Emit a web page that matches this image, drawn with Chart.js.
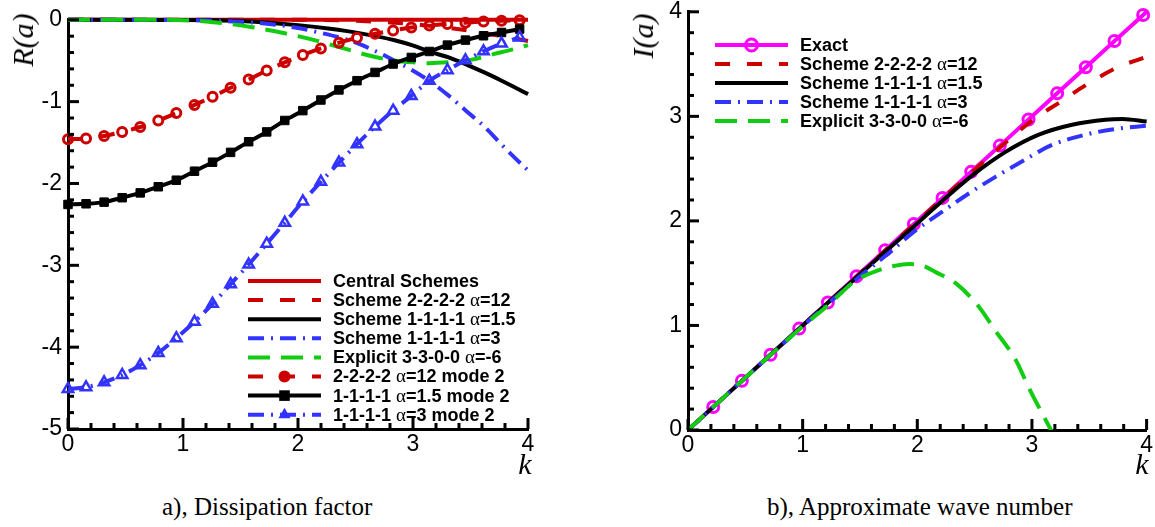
<!DOCTYPE html>
<html>
<head>
<meta charset="utf-8">
<script src="https://cdn.jsdelivr.net/npm/chart.js@4.4.1/dist/chart.umd.min.js"></script>
<style>
  html, body { margin: 0; padding: 0; background: #fff; width: 1155px; height: 527px; overflow: hidden; }
  canvas { position: absolute; }
  .lbl { position: absolute; font-family: 'Liberation Serif', 'Times New Roman', serif; color: #000; white-space: nowrap; line-height: 1; }
  .axt { font-style: italic; font-size: 30px; transform: translate(-50%, -50%); }
  .rot { transform: translate(-50%, -50%) rotate(-90deg); }
  .cap { font-size: 25px; }
</style>
</head>
<body>
<canvas id="dissipationChart" width="560" height="470" style="left:0;top:0"></canvas>
<canvas id="waveChart" width="535" height="479" style="left:620px;top:-8px"></canvas>

<div class="lbl axt rot" style="left:23px;top:40px">R(a)</div>
<div class="lbl axt rot" style="left:643px;top:36px">I(a)</div>
<div class="lbl axt" style="left:525px;top:464px">k</div>
<div class="lbl axt" style="left:1142px;top:464px">k</div>
<div class="lbl cap" style="left:162px;top:494px">a), Dissipation factor</div>
<div class="lbl cap" style="left:767px;top:494px">b), Approximate wave number</div>

<script>
// ---- left panel: dissipation factor R(a) ----
const K_MODE2 = [0, 0.157, 0.314, 0.471, 0.628, 0.785, 0.942, 1.100, 1.257, 1.414, 1.571, 1.728, 1.885,
                 2.042, 2.199, 2.356, 2.513, 2.670, 2.827, 2.985, 3.142, 3.299, 3.456, 3.613, 3.770, 3.927];
const R_2222_MODE2 = [-1.46, -1.45, -1.42, -1.37, -1.31, -1.23, -1.14, -1.04, -0.94, -0.83, -0.73, -0.62, -0.52,
                      -0.43, -0.35, -0.28, -0.22, -0.17, -0.13, -0.095, -0.07, -0.05, -0.035, -0.022, -0.012, -0.005];
const R_1111A_MODE2 = [-2.256, -2.248, -2.228, -2.174, -2.115, -2.04, -1.96, -1.85, -1.74, -1.62, -1.49, -1.37, -1.23,
                       -1.11, -0.98, -0.857, -0.744, -0.643, -0.54, -0.46, -0.387, -0.309, -0.248, -0.195, -0.155, -0.113];
const R_1111B_MODE2 = [-4.51, -4.49, -4.43, -4.34, -4.22, -4.07, -3.89, -3.69, -3.47, -3.23, -2.99, -2.735, -2.48,
                       -2.22, -1.98, -1.745, -1.52, -1.305, -1.11, -0.93, -0.745, -0.615, -0.495, -0.385, -0.29, -0.215];

const K_CENTRAL = [0, 4];
const R_CENTRAL = [0, 0];
const K_2222 = [0, 2.0, 2.36, 2.51, 2.67, 2.83, 2.98, 3.14, 3.29, 3.45, 3.61, 3.77, 3.93, 4.0];
const R_2222 = [0, 0, -0.005, -0.012, -0.022, -0.035, -0.05, -0.073, -0.095, -0.125, -0.16, -0.2, -0.24, -0.26];
const K_1111A = [0, 1.0, 1.25, 1.5, 1.75, 2.0, 2.28, 2.52, 2.84, 2.99, 3.14, 3.31, 3.47, 3.62, 3.78, 3.93, 4.0];
const R_1111A = [0, -0.002, -0.006, -0.015, -0.035, -0.065, -0.11, -0.16, -0.25, -0.31, -0.387, -0.46, -0.55, -0.643, -0.75, -0.857, -0.91];
const K_1111B = [0, 1.0, 1.25, 1.5, 1.75, 2.0, 2.2, 2.36, 2.52, 2.68, 2.84, 2.99, 3.14, 3.31, 3.46, 3.62, 3.77, 3.93, 4.0];
const R_1111B = [0, -0.003, -0.01, -0.025, -0.05, -0.1, -0.16, -0.216, -0.289, -0.387, -0.5, -0.613, -0.745, -0.927, -1.11, -1.305, -1.524, -1.747, -1.84];
const K_EXPL = [0, 0.8, 1.0, 1.2, 1.4, 1.6, 1.8, 2.0, 2.2, 2.4, 2.6, 2.8, 3.0, 3.14, 3.3, 3.5, 3.7, 3.9, 4.0];
const R_EXPL = [0, 0, -0.005, -0.02, -0.05, -0.09, -0.14, -0.2, -0.27, -0.35, -0.43, -0.49, -0.52, -0.53, -0.52, -0.49, -0.42, -0.35, -0.31];

// ---- right panel: approximate wave number I(a) ----
const K_EXACT = [0, 0.22, 0.47, 0.72, 0.97, 1.22, 1.47, 1.72, 1.97, 2.22, 2.47, 2.72, 2.97, 3.22, 3.47, 3.72, 3.97, 4.0];
const I_EXACT = [0, 0.22, 0.47, 0.72, 0.97, 1.22, 1.47, 1.72, 1.97, 2.22, 2.47, 2.72, 2.97, 3.22, 3.47, 3.72, 3.97, 4.0];
const K_I2222 = [0, 1.0, 2.0, 2.5, 2.75, 3.0, 3.25, 3.5, 3.75, 4.0];
const I_2222 = [0, 1.0, 1.995, 2.49, 2.73, 2.96, 3.14, 3.32, 3.47, 3.57];
const K_I1111A = [0, 0.5, 1.0, 1.25, 1.5, 1.7, 1.887, 2.19, 2.48, 2.77, 3.06, 3.35, 3.64, 3.79, 4.0];
const I_1111A = [0, 0.5, 1.0, 1.245, 1.49, 1.685, 1.865, 2.165, 2.435, 2.66, 2.825, 2.92, 2.968, 2.975, 2.95];
const K_I1111B = [0, 0.5, 1.0, 1.25, 1.5, 1.75, 1.98, 2.215, 2.446, 2.678, 2.916, 3.17, 3.467, 3.73, 4.0];
const I_1111B = [0, 0.5, 0.995, 1.235, 1.47, 1.69, 1.905, 2.086, 2.26, 2.419, 2.571, 2.724, 2.825, 2.879, 2.91];
const K_IEXPL = [0, 0.5, 1.0, 1.25, 1.45, 1.64, 1.8, 1.93, 2.05, 2.16, 2.34, 2.54, 2.68, 2.86, 2.97, 3.12, 3.2];
const I_EXPL = [0, 0.5, 0.99, 1.22, 1.42, 1.52, 1.57, 1.587, 1.57, 1.51, 1.40, 1.175, 0.952, 0.667, 0.41, 0.095, -0.07];

// axis tick positions (major every 1, minor every 0.2)
const X_MINOR = [0, 0.2, 0.4, 0.6, 0.8, 1, 1.2, 1.4, 1.6, 1.8, 2, 2.2, 2.4, 2.6, 2.8, 3, 3.2, 3.4, 3.6, 3.8, 4];
const R_MINOR = [-5, -4.8, -4.6, -4.4, -4.2, -4, -3.8, -3.6, -3.4, -3.2, -3, -2.8, -2.6, -2.4, -2.2, -2,
                 -1.8, -1.6, -1.4, -1.2, -1, -0.8, -0.6, -0.4, -0.2, 0];
const I_MINOR = [0, 0.2, 0.4, 0.6, 0.8, 1, 1.2, 1.4, 1.6, 1.8, 2, 2.2, 2.4, 2.6, 2.8, 3, 3.2, 3.4, 3.6, 3.8, 4];

const RED = '#cc0000';
const BLACK = '#000000';
const BLUE = '#3333ff';
const GREEN = '#11cc11';
const MAGENTA = '#ff00ff';
const DASH = [15, 17];
const LONG_DASH = [22, 11];
const DASH_DOT = [16, 7, 2, 7];

const pts = (ks, vs) => ks.map((k, i) => ({ x: k, y: vs[i] }));

function series(label, ks, vs, color, dash, extra) {
    return Object.assign({
        label: label,
        data: pts(ks, vs),
        borderColor: color,
        backgroundColor: color,
        borderWidth: 4,
        borderDash: dash,
        pointRadius: 0,
        cubicInterpolationMode: 'monotone',
        clip: false
    }, extra || {});
}

function drawMarker(ctx, style, x, y, r) {
    ctx.beginPath();
    if (style === 'rect') {
        const s = r * Math.SQRT1_2;
        ctx.rect(x - s, y - s, 2 * s, 2 * s);
    } else if (style === 'triangle') {
        ctx.moveTo(x, y - r);
        ctx.lineTo(x + 0.866 * r, y + 0.5 * r);
        ctx.lineTo(x - 0.866 * r, y + 0.5 * r);
        ctx.closePath();
    } else {
        ctx.arc(x, y, r, 0, Math.PI * 2);
    }
}

// tick marks pointing into the plot
const tickMarks = {
    id: 'tickMarks',
    afterDatasetsDraw(chart) {
        const ctx = chart.ctx;
        const area = chart.chartArea;
        const xs = chart.scales.x;
        const ys = chart.scales.y;
        const yTicks = chart.canvas.id === 'dissipationChart' ? R_MINOR : I_MINOR;
        ctx.save();
        ctx.fillStyle = '#000';
        for (const v of X_MINOR) {
            const len = Number.isInteger(v) ? 11 : 6;
            ctx.fillRect(xs.getPixelForValue(v) - 1.5, area.bottom - len, 3, len);
        }
        for (const v of yTicks) {
            const len = Number.isInteger(v) ? 11 : 6;
            ctx.fillRect(area.left, ys.getPixelForValue(v) - 1.5, len, 3);
        }
        ctx.restore();
    }
};

// legend drawn inside the plot, Tecplot style
const boxLegend = {
    id: 'boxLegend',
    afterDraw(chart, args, opts) {
        const ctx = chart.ctx;
        ctx.save();
        ctx.textBaseline = 'middle';
        chart.data.datasets.forEach((ds, i) => {
            const y = opts.top + i * opts.rowHeight;
            ctx.strokeStyle = ds.borderColor;
            ctx.lineWidth = 4;
            ctx.setLineDash(ds.borderDash || []);
            ctx.beginPath(); ctx.moveTo(opts.lineStart, y); ctx.lineTo(opts.lineEnd, y); ctx.stroke();
            ctx.setLineDash([]);
            if (ds.legendRadius) {
                const cx = (opts.lineStart + opts.lineEnd) / 2;
                drawMarker(ctx, ds.pointStyle, cx, y, ds.legendRadius);
                if (ds.legendHollow) {
                    ctx.lineWidth = ds.pointBorderWidth; ctx.stroke();
                } else {
                    ctx.fillStyle = ds.borderColor; ctx.fill();
                }
            }
            // text, with alpha set in a serif face
            ctx.fillStyle = '#000';
            let tx = opts.textX;
            ds.label.split(/(α)/).forEach(part => {
                if (!part) return;
                ctx.font = part === 'α' ? '19px "Liberation Serif"' : 'bold 18px "Liberation Sans"';
                ctx.fillText(part, tx, y + 1);
                tx += ctx.measureText(part).width;
            });
        });
        ctx.restore();
    }
};

function axisOptions(min, max, fitWidth, fitHeight) {
    const tickFont = { family: 'Liberation Sans', size: 23 };
    return {
        x: {
            type: 'linear', min: 0, max: 4,
            grid: { display: false, drawTicks: false },
            border: { display: true, width: 3, color: '#000' },
            ticks: { stepSize: 1, font: tickFont, color: '#000', padding: 2, maxRotation: 0 },
            afterFit: s => { s.height = fitHeight; }
        },
        y: {
            type: 'linear', min: min, max: max,
            grid: { display: false, drawTicks: false },
            border: { display: true, width: 3, color: '#000' },
            ticks: { stepSize: 1, font: tickFont, color: '#000', padding: 6 },
            afterFit: s => { s.width = fitWidth; }
        }
    };
}

function makeChart(id, datasets, scales, padding, legendOpts) {
    // later datasets are drawn on top
    datasets.forEach((ds, i) => { ds.order = datasets.length - i; });
    return new Chart(document.getElementById(id), {
        type: 'line',
        data: { datasets: datasets },
        options: {
            responsive: false,
            animation: false,
            layout: { padding: padding },
            scales: scales,
            plugins: {
                legend: { display: false },
                tooltip: { enabled: false },
                boxLegend: legendOpts
            }
        },
        plugins: [tickMarks, boxLegend]
    });
}

makeChart('dissipationChart', [
    series('Central Schemes', K_CENTRAL, R_CENTRAL, RED, []),
    series('Scheme 2-2-2-2 α=12', K_2222, R_2222, RED, DASH),
    series('Scheme 1-1-1-1 α=1.5', K_1111A, R_1111A, BLACK, []),
    series('Scheme 1-1-1-1 α=3', K_1111B, R_1111B, BLUE, DASH_DOT),
    series('Explicit 3-3-0-0 α=-6', K_EXPL, R_EXPL, GREEN, LONG_DASH),
    series('2-2-2-2 α=12 mode 2', K_MODE2, R_2222_MODE2, RED, DASH,
        { pointRadius: 4.5, pointStyle: 'circle', pointBorderWidth: 3, pointBackgroundColor: 'rgba(0,0,0,0)', legendRadius: 6 }),
    series('1-1-1-1 α=1.5 mode 2', K_MODE2, R_1111A_MODE2, BLACK, [],
        { pointRadius: 6, pointStyle: 'rect', pointBorderWidth: 1, pointBackgroundColor: BLACK, legendRadius: 7.5 }),
    series('1-1-1-1 α=3 mode 2', K_MODE2, R_1111B_MODE2, BLUE, DASH_DOT,
        { pointRadius: 6, pointStyle: 'triangle', pointBorderWidth: 2.5, pointBackgroundColor: 'rgba(0,0,0,0)', legendRadius: 7 })
], axisOptions(-5, 0, 68, 41), { top: 19, right: 32, left: 0, bottom: 0 },
   { top: 281, rowHeight: 19.1, lineStart: 248, lineEnd: 321, textX: 333 });

makeChart('waveChart', [
    series('Exact', K_EXACT, I_EXACT, MAGENTA, [],
        { pointRadius: [0, 5.5, 5.5, 5.5, 5.5, 5.5, 5.5, 5.5, 5.5, 5.5, 5.5, 5.5, 5.5, 5.5, 5.5, 5.5, 5.5, 0],
          pointStyle: 'circle', pointBorderWidth: 3, pointBackgroundColor: 'rgba(0,0,0,0)',
          legendRadius: 6, legendHollow: true }),
    series('Scheme 2-2-2-2 α=12', K_I2222, I_2222, RED, DASH),
    series('Scheme 1-1-1-1 α=1.5', K_I1111A, I_1111A, BLACK, []),
    series('Scheme 1-1-1-1 α=3', K_I1111B, I_1111B, BLUE, DASH_DOT),
    series('Explicit 3-3-0-0 α=-6', K_IEXPL, I_EXPL, GREEN, LONG_DASH, { clip: undefined })
], axisOptions(0, 4, 68, 41), { top: 19, right: 7, left: 0, bottom: 0 },
   { top: 53, rowHeight: 19, lineStart: 95, lineEnd: 168, textX: 180 });
</script>
</body>
</html>
